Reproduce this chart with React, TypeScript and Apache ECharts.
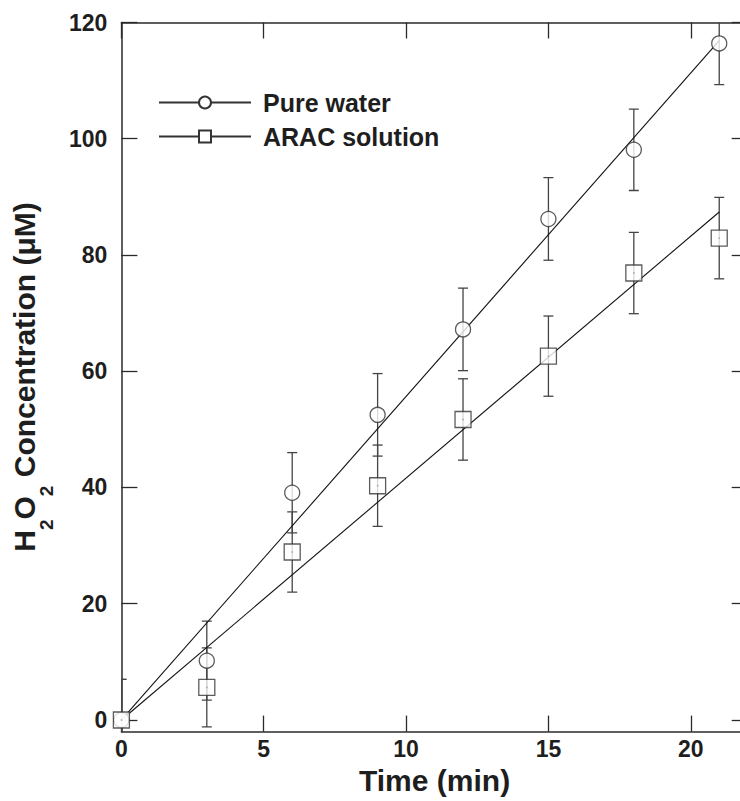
import React, { useEffect, useRef } from "react";
import * as echarts from "echarts";

// ---- data ----
const times = [0, 3, 6, 9, 12, 15, 18, 21];
const pureWater = [0, 10.2, 39.1, 52.5, 67.2, 86.2, 98.1, 116.4];
const pureWaterErr = [7.0, 6.8, 6.9, 7.1, 7.1, 7.1, 7.0, 7.1];
const aracSolution = [0, 5.6, 28.9, 40.3, 51.7, 62.6, 76.9, 82.9];
const aracSolutionErr = [7.0, 6.8, 6.9, 7.0, 7.0, 6.9, 7.0, 7.0];
const fitTimes = [0, 21];
const fitPureWater = [0, 116.9];
const fitAracSolution = [0, 87.4];
const xTicks = [0, 5, 10, 15, 20];
const yTicks = [0, 20, 40, 60, 80, 100, 120];
const seriesNames = ["Pure water", "ARAC solution"];

const FONT = "Arial, 'Liberation Sans', Helvetica, sans-serif";
const TXT = "#1e1e1e";
const LINE = "#2a2a2a";

function errorBars(vals: number[], errs: number[]) {
  return {
    type: "custom",
    clip: true,
    z: 1,
    silent: true,
    data: times.map((t, i) => [t, vals[i] - errs[i], vals[i] + errs[i]]),
    encode: { x: 0, y: [1, 2] },
    renderItem: (params: any, api: any) => {
      const x = api.value(0);
      const lo = api.coord([x, api.value(1)]);
      const hi = api.coord([x, api.value(2)]);
      const w = 5;
      const st = { stroke: "#444", lineWidth: 1.3 };
      return {
        type: "group",
        children: [
          { type: "line", shape: { x1: lo[0], y1: lo[1], x2: hi[0], y2: hi[1] }, style: st },
          { type: "line", shape: { x1: lo[0] - w, y1: lo[1], x2: lo[0] + w, y2: lo[1] }, style: st },
          { type: "line", shape: { x1: hi[0] - w, y1: hi[1], x2: hi[0] + w, y2: hi[1] }, style: st },
        ],
      };
    },
  };
}

export default function App() {
  const ref = useRef<HTMLDivElement>(null);
  useEffect(() => {
    if (!ref.current) return;
    const chart = echarts.init(ref.current, undefined, { renderer: "svg" });
    const markerStyle = { color: "#fff", borderColor: "#333", borderWidth: 1.3 };
    const tickStyle = { color: LINE, width: 1.3 };
    const axisLineStyle = { color: LINE, width: 1.5 };
    const option: any = {
      animation: false,
      backgroundColor: "#fff",
      grid: {
        left: 121.4,
        top: 22.5,
        width: 626.3,
        height: 709.1,
        containLabel: false,
        outerBoundsMode: "none",
      },
      legend: {
        orient: "vertical",
        left: 153,
        top: 85,
        itemWidth: 92,
        itemHeight: 15,
        itemGap: 9,
        data: seriesNames,
        textStyle: {
          fontFamily: FONT,
          fontWeight: "bold",
          fontSize: 25,
          color: TXT,
          padding: [0, 0, 0, 7],
        },
      },
      xAxis: [
        {
          type: "value",
          position: "bottom",
          min: 0,
          max: 22,
          interval: 5,
          name: "Time (min)",
          nameLocation: "middle",
          nameGap: 25,
          nameTextStyle: { fontFamily: FONT, fontWeight: "bold", fontSize: 30, color: TXT },
          axisLine: { onZero: false, lineStyle: axisLineStyle },
          axisTick: { inside: true, length: 16, customValues: xTicks, lineStyle: tickStyle },
          axisLabel: {
            customValues: xTicks,
            fontFamily: FONT,
            fontWeight: "bold",
            fontSize: 23,
            color: TXT,
            margin: 6,
          },
          splitLine: { show: false },
        },
        {
          type: "value",
          position: "top",
          min: 0,
          max: 22,
          interval: 5,
          axisLine: { onZero: false, lineStyle: axisLineStyle },
          axisTick: { inside: true, length: 16, customValues: xTicks, lineStyle: tickStyle },
          axisLabel: { show: false },
          splitLine: { show: false },
        },
      ],
      yAxis: [
        {
          type: "value",
          position: "left",
          min: -2,
          max: 120,
          axisLine: { show: true, onZero: false, lineStyle: axisLineStyle },
          axisTick: { show: true, inside: true, length: 16, customValues: yTicks, lineStyle: tickStyle },
          axisLabel: {
            customValues: yTicks,
            fontFamily: FONT,
            fontWeight: "bold",
            fontSize: 23,
            color: TXT,
            margin: 14,
          },
          splitLine: { show: false },
        },
        {
          type: "value",
          position: "right",
          min: -2,
          max: 120,
          axisLine: { show: true, onZero: false, lineStyle: axisLineStyle },
          axisTick: { show: true, inside: true, length: 16, customValues: yTicks, lineStyle: tickStyle },
          axisLabel: { show: false },
          splitLine: { show: false },
        },
      ],
      graphic: [
        {
          type: "text",
          x: 24,
          y: 377,
          rotation: Math.PI / 2,
          style: {
            text: "{m|H}{s|2}{m|O}{s|2}{m| Concentration (μM)}",
            align: "center",
            verticalAlign: "middle",
            rich: {
              m: { fontFamily: FONT, fontWeight: "bold", fontSize: 30, lineHeight: 30, verticalAlign: "top", fill: TXT, color: TXT },
              s: { fontFamily: FONT, fontWeight: "bold", fontSize: 19, lineHeight: 19, verticalAlign: "top", padding: [28, 0, 0, 0], fill: TXT, color: TXT },
            },
          },
        },
      ],
      series: [
        errorBars(pureWater, pureWaterErr),
        errorBars(aracSolution, aracSolutionErr),
        {
          type: "line",
          name: "fit-pure",
          data: fitTimes.map((t, i) => [t, fitPureWater[i]]),
          symbol: "none",
          z: 2,
          lineStyle: { color: "#111", width: 1.1 },
          silent: true,
        },
        {
          type: "line",
          name: "fit-arac",
          data: fitTimes.map((t, i) => [t, fitAracSolution[i]]),
          symbol: "none",
          z: 2,
          lineStyle: { color: "#111", width: 1.1 },
          silent: true,
        },
        {
          type: "scatter",
          name: "pts-pure",
          data: times.map((t, i) => [t, pureWater[i]]),
          symbol: "circle",
          symbolSize: 15,
          z: 3,
          itemStyle: markerStyle,
          silent: true,
        },
        {
          type: "scatter",
          name: "pts-arac",
          data: times.map((t, i) => [t, aracSolution[i]]),
          symbol: "rect",
          symbolSize: 16,
          z: 4,
          itemStyle: markerStyle,
          silent: true,
        },
        {
          type: "scatter",
          name: "dots-arac",
          data: times.map((t, i) => [t, aracSolution[i]]),
          symbol: "circle",
          symbolSize: 1.6,
          z: 5,
          itemStyle: { color: "#999" },
          silent: true,
        },
        {
          type: "line",
          name: seriesNames[0],
          data: [],
          symbol: "circle",
          symbolSize: 15,
          itemStyle: markerStyle,
          lineStyle: { color: "#333", width: 1.2 },
        },
        {
          type: "line",
          name: seriesNames[1],
          data: [],
          symbol: "rect",
          symbolSize: 16,
          itemStyle: markerStyle,
          lineStyle: { color: "#333", width: 1.2 },
        },
      ],
    };
    chart.setOption(option);
    return () => chart.dispose();
  }, []);
  return (
    <div
      ref={ref}
      style={{ position: "fixed", left: 0, top: 0, width: 740, height: 801, background: "#fff" }}
    />
  );
}
